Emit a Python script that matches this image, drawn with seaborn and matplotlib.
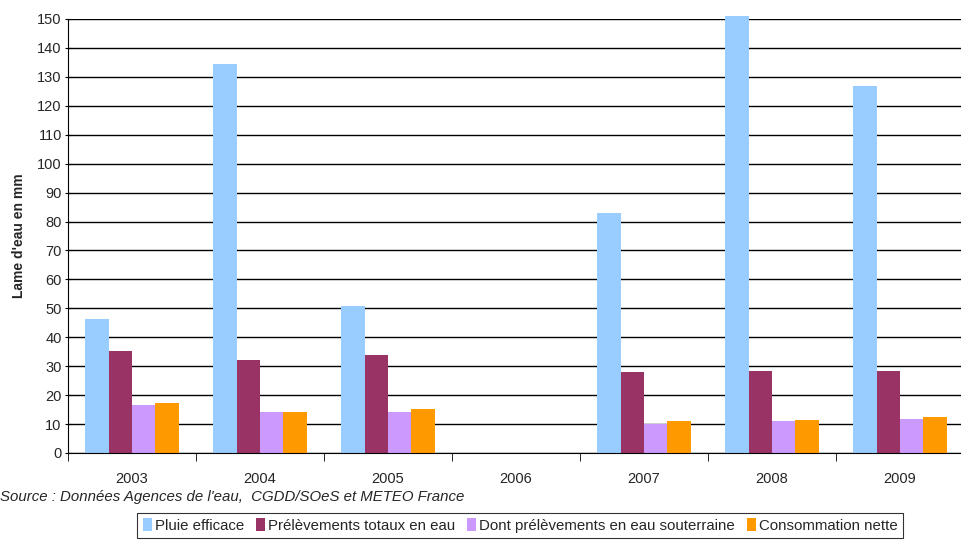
import matplotlib
matplotlib.use("Agg")
import matplotlib.pyplot as plt
import seaborn as sns
import pandas as pd
import numpy as np
from matplotlib.patches import Patch

years = ["2003", "2004", "2005", "2006", "2007", "2008", "2009"]
series = ["Pluie efficace", "Prélèvements totaux en eau",
          "Dont prélèvements en eau souterraine", "Consommation nette"]
pluie = [46.3, 134.5, 50.8, np.nan, 83.0, 151.0, 126.9]
prelev = [35.3, 32.1, 33.9, np.nan, 28.0, 28.3, 28.3]
souterraine = [16.6, 14.2, 14.2, np.nan, 10.0, 11.1, 11.8]
conso = [17.3, 14.2, 15.2, np.nan, 11.1, 11.4, 12.4]
colors = ["#99CCFF", "#993366", "#CC99FF", "#FF9900"]

rows = []
for name, vals in zip(series, [pluie, prelev, souterraine, conso]):
    for y, v in zip(years, vals):
        rows.append({"Année": y, "Série": name, "Valeur": v})
df = pd.DataFrame(rows)

sns.set_style("white")
plt.rcParams["font.family"] = ["Liberation Sans", "DejaVu Sans"]

fig = plt.figure(figsize=(9.61, 5.40), dpi=100)
ax = fig.add_axes([68 / 961, 1 - 453 / 540, 896 / 961, 434 / 540])

sns.barplot(data=df, x="Année", y="Valeur", hue="Série", order=years,
            hue_order=series, palette=colors, width=0.73, gap=0,
            saturation=1, errorbar=None, ax=ax, legend=False, zorder=2,
            linewidth=0, edgecolor="none")
for p in ax.patches:
    p.set_clip_on(False)

ax.set_ylim(0, 150)
ax.set_xlim(-0.5, 6.5)
ax.set_yticks(range(0, 151, 10))
ax.yaxis.grid(True, color="black", linewidth=1, zorder=0)
ax.set_axisbelow(True)
for s in ["top", "right"]:
    ax.spines[s].set_visible(False)
ax.spines["left"].set_color("black")
ax.spines["bottom"].set_color("black")
ax.tick_params(axis="y", left=True, length=5, direction="inout",
               labelsize=10.5, pad=2, color="black")
ax.set_xticks(np.arange(0, 7))
ax.set_xticklabels(years, fontsize=10.5)
ax.tick_params(axis="x", bottom=False, pad=10)
ax.set_xticks(np.arange(-0.5, 7, 1), minor=True)
ax.tick_params(axis="x", which="minor", bottom=True, length=6,
               direction="out", color="black")
ax.set_xlabel("")
ax.set_ylabel("Lame d'eau en mm", fontsize=10, fontweight="bold", labelpad=8)

fig.text(0.5 / 961, 1 - 497 / 540,
         "Source : Données Agences de l'eau,  CGDD/SOeS et METEO France",
         fontsize=10.8, style="italic", va="center", ha="left")

handles = [Patch(facecolor=c, edgecolor="none") for c in colors]
leg = fig.legend(handles, series, loc="upper center",
                 bbox_to_anchor=(520 / 961, 1 - 505 / 540), ncol=4,
                 fontsize=10.8, frameon=True, fancybox=False,
                 handlelength=0.6, handleheight=1.0, handletextpad=0.2,
                 columnspacing=0.8, borderpad=0.35)
leg.get_frame().set_edgecolor("black")
leg.get_frame().set_linewidth(0.8)

fig.savefig("out.png", dpi=100)
